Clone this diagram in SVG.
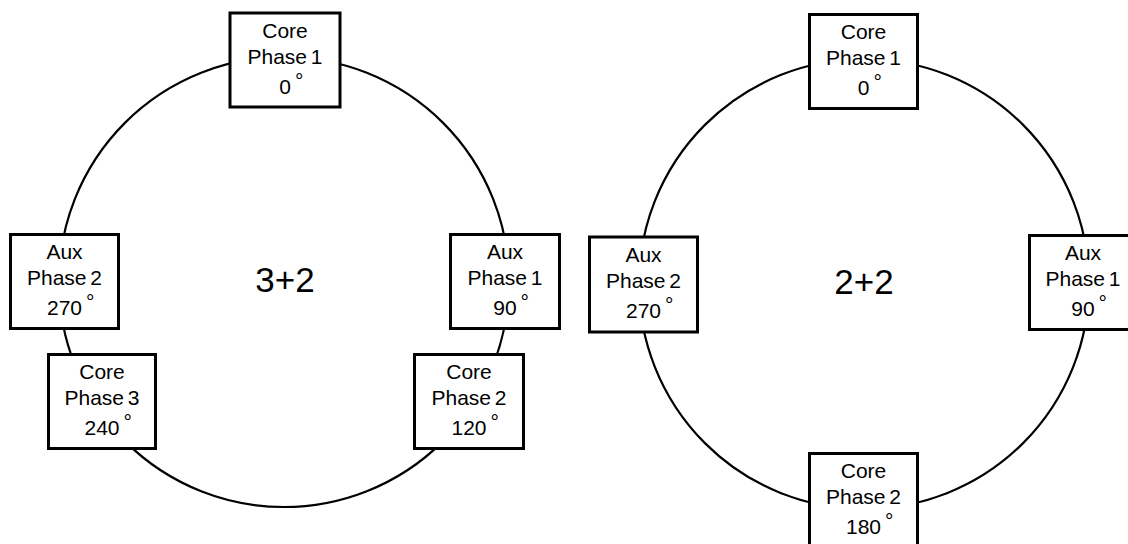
<svg xmlns="http://www.w3.org/2000/svg" width="1128" height="544" viewBox="0 0 1128 544">
<style>
.ring{fill:none;stroke:#000;stroke-width:2.2}
.box{fill:#fff;stroke:#000;stroke-width:3}
.t{font-family:"Liberation Sans",Arial,Helvetica,sans-serif;font-size:21px;fill:#000;text-anchor:middle;word-spacing:-2px}
.d{font-family:"Liberation Sans",Arial,Helvetica,sans-serif;font-size:21px;fill:#000;text-anchor:start}
.big{font-family:"Liberation Sans",Arial,Helvetica,sans-serif;font-size:35px;fill:#000;text-anchor:middle}
</style>
<rect width="1128" height="544" fill="#fff"/>
<g id="connectors">
<circle class="ring" cx="284" cy="282" r="225"/>
<circle class="ring" cx="864" cy="284" r="225"/>
</g>
<g id="label-3plus2"><text class="big" x="285" y="292">3+2</text></g>
<g id="label-2plus2"><text class="big" x="864" y="294">2+2</text></g>

<g id="L-core1">
<rect class="box" x="230" y="13" width="110" height="94"/>
<text class="t" x="285" y="38">Core</text>
<text class="t" x="285" y="64">Phase 1</text>
<text class="t" x="285" y="94">0</text>
<text class="d" x="295" y="88">°</text>
</g>
<g id="L-aux2">
<rect class="box" x="10.5" y="234.5" width="108" height="94"/>
<text class="t" x="64.5" y="259">Aux</text>
<text class="t" x="64.5" y="285">Phase 2</text>
<text class="t" x="64.5" y="315">270</text>
<text class="d" x="86" y="309">°</text>
</g>
<g id="L-core3">
<rect class="box" x="48.5" y="354.5" width="107" height="94"/>
<text class="t" x="102" y="379">Core</text>
<text class="t" x="102" y="405">Phase 3</text>
<text class="t" x="102" y="435">240</text>
<text class="d" x="123.5" y="429">°</text>
</g>
<g id="L-aux1">
<rect class="box" x="450.5" y="234.5" width="109" height="94"/>
<text class="t" x="505" y="259">Aux</text>
<text class="t" x="505" y="285">Phase 1</text>
<text class="t" x="505" y="315">90</text>
<text class="d" x="520.5" y="309">°</text>
</g>
<g id="L-core2">
<rect class="box" x="414.5" y="354.5" width="109" height="94"/>
<text class="t" x="469" y="379">Core</text>
<text class="t" x="469" y="405">Phase 2</text>
<text class="t" x="469" y="435">120</text>
<text class="d" x="490.5" y="429">°</text>
</g>

<g id="R-core1">
<rect class="box" x="809.5" y="14.5" width="108" height="94"/>
<text class="t" x="863.5" y="39">Core</text>
<text class="t" x="863.5" y="65">Phase 1</text>
<text class="t" x="863.5" y="95">0</text>
<text class="d" x="873.5" y="89">°</text>
</g>
<g id="R-aux2">
<rect class="box" x="589.5" y="237" width="108" height="95"/>
<text class="t" x="643.5" y="262">Aux</text>
<text class="t" x="643.5" y="288">Phase 2</text>
<text class="t" x="643.5" y="318">270</text>
<text class="d" x="665" y="312">°</text>
</g>
<g id="R-aux1">
<rect class="box" x="1029.5" y="235.5" width="107" height="94"/>
<text class="t" x="1083" y="260">Aux</text>
<text class="t" x="1083" y="286">Phase 1</text>
<text class="t" x="1083" y="316">90</text>
<text class="d" x="1098.5" y="310">°</text>
</g>
<g id="R-core2">
<rect class="box" x="809.5" y="453.5" width="108" height="95"/>
<text class="t" x="863.5" y="478">Core</text>
<text class="t" x="863.5" y="504">Phase 2</text>
<text class="t" x="863.5" y="534">180</text>
<text class="d" x="885" y="528">°</text>
</g>
</svg>
